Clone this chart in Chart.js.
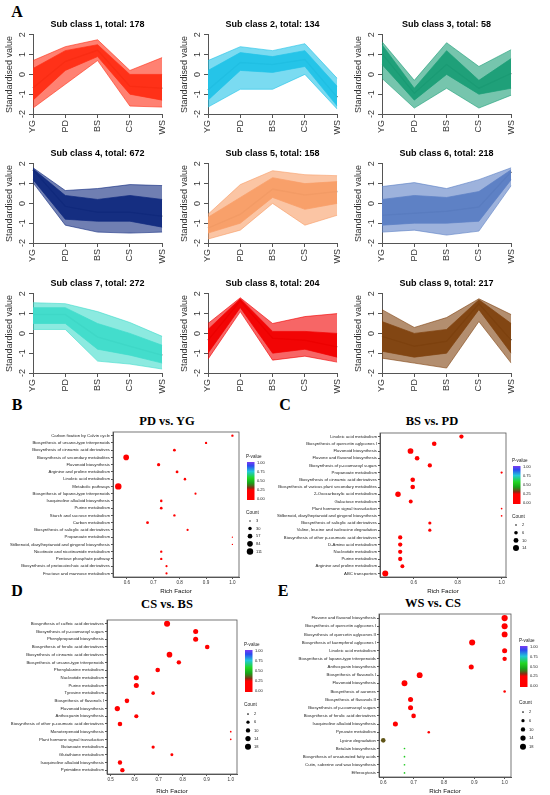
<!DOCTYPE html>
<html><head><meta charset="utf-8">
<script src="https://cdn.jsdelivr.net/npm/chart.js@4.4.0/dist/chart.umd.min.js"></script>
<style>
body{margin:0;background:#fff;width:550px;height:795px;position:relative;overflow:hidden;font-family:"Liberation Sans",Arial,sans-serif;}
canvas{position:absolute;}
.lab{position:absolute;font-family:"Liberation Serif","Times New Roman",serif;font-weight:bold;font-size:16px;transform:translate(-50%,-50%);line-height:1;}
.ttl{position:absolute;font-family:"Liberation Serif","Times New Roman",serif;font-weight:bold;font-size:12.5px;transform:translate(-50%,-50%);white-space:nowrap;line-height:1;}
</style></head><body>
<div class="lab" style="left:17px;top:12px">A</div>
<div class="lab" style="left:17px;top:405px">B</div>
<div class="lab" style="left:285px;top:405px">C</div>
<div class="lab" style="left:17px;top:591px">D</div>
<div class="lab" style="left:283px;top:591px">E</div>
<div class="ttl" style="left:167px;top:421px">PD vs. YG</div>
<div class="ttl" style="left:432px;top:421px">BS vs. PD</div>
<div class="ttl" style="left:167px;top:604px">CS vs. BS</div>
<div class="ttl" style="left:433px;top:603px">WS vs. CS</div>
<script>
// ---------- Panel A data ----------
const stages = ['YG','PD','BS','CS','WS'];
const subTotals = [178,134,58,672,158,218,272,204,217];
const meanValues = [
 [-0.68,0.65,1.22,-0.60,-0.70],
 [-0.78,0.60,0.50,0.75,-1.15],
 [1.05,-0.95,0.50,-0.70,0.05],
 [1.70,-0.15,-0.45,-0.45,-0.65],
 [-1.25,-0.55,0.72,0.42,0.60],
 [-0.60,-0.50,-0.40,-0.18,1.60],
 [0.95,0.95,-0.18,-0.65,-1.10],
 [-0.35,1.65,-0.25,-0.35,-0.68],
 [-0.15,-0.65,-0.40,1.50,-0.35]
];
const maxValues = [
 [0.70,1.40,1.75,0.20,0.85],
 [0.70,1.40,1.20,1.55,-0.20],
 [1.65,-0.30,1.60,0.40,1.25],
 [1.80,0.65,0.75,0.95,0.90],
 [-0.55,0.95,1.65,1.45,1.40],
 [0.85,1.05,0.75,1.20,1.80],
 [1.55,1.50,1.10,0.55,-0.15],
 [0.50,1.80,0.50,0.85,1.00],
 [1.20,0.30,0.80,1.75,0.95]
];
const minValues = [
 [-1.70,-0.50,0.70,-1.60,-1.65],
 [-1.65,-0.75,-0.75,0.00,-1.75],
 [-0.20,-1.70,-0.70,-1.70,-1.05],
 [1.05,-1.10,-1.45,-1.50,-1.45],
 [-1.80,-1.35,0.00,-1.10,-0.60],
 [-1.45,-1.35,-1.60,-1.40,0.90],
 [0.20,0.20,-1.40,-1.55,-1.80],
 [-1.30,1.10,-1.35,-1.15,-1.45],
 [-1.25,-1.50,-1.75,0.60,-1.50]
];
const coreHigh = [
 [0.30,1.20,1.50,0.00,0.00],
 [0.20,1.10,0.90,1.20,-0.60],
 [1.50,-0.70,1.20,-0.30,0.80],
 [1.75,0.40,0.20,0.40,0.20],
 [-0.70,0.30,1.30,1.00,1.10],
 [0.20,0.40,0.30,0.60,1.70],
 [1.30,1.30,0.50,0.00,-0.60],
 [0.20,1.75,0.10,0.10,0.00],
 [0.60,0.00,0.20,1.70,0.50]
];
const coreLow = [
 [-1.30,0.20,0.90,-1.00,-1.30],
 [-1.30,0.20,0.10,0.40,-1.60],
 [0.50,-1.30,0.00,-1.00,-0.70],
 [1.20,-0.80,-0.90,-0.90,-1.20],
 [-1.50,-1.00,0.30,-0.30,0.00],
 [-1.10,-1.00,-1.00,-0.90,1.20],
 [0.50,0.50,-0.80,-1.10,-1.50],
 [-1.00,1.30,-1.00,-0.80,-1.20],
 [-0.90,-1.20,-1.00,1.20,-1.00]
];
const subColors = ['#FF2D14','#22C3E8','#1B9E77','#102A7F','#F99E68','#5B7FC4','#40DCCB','#F20000','#80420F'];

// ---------- Panel B data (PD vs. YG) ----------
const pathwaysB = ['Carbon fixation by Calvin cycle','Biosynthesis of ursane-type triterpenoids','Biosynthesis of cinnamic acid derivatives','Biosynthesis of secondary metabolites','Flavonoid biosynthesis','Arginine and proline metabolism','Linoleic acid metabolism','Metabolic pathways','Biosynthesis of lupane-type triterpenoids','Isoquinoline alkaloid biosynthesis','Purine metabolism','Starch and sucrose metabolism','Carbon metabolism','Biosynthesis of salicylic acid derivatives','Propanoate metabolism','Stilbenoid, diarylheptanoid and gingerol biosynthesis','Nicotinate and nicotinamide metabolism','Pentose phosphate pathway','Biosynthesis of protocatechuic acid derivatives','Fructose and mannose metabolism'];
const richB = [1.0,0.9,0.78,0.597,0.72,0.79,0.82,0.567,0.86,0.73,0.73,0.78,0.678,0.83,1.0,1.0,0.73,0.73,0.75,0.75];
const countB = [12,12,18,84,25,18,14,111,10,14,16,12,18,10,3,3,12,12,10,10];
const pvalB = [0.02,0.03,0.01,0.001,0.01,0.02,0.02,0.001,0.04,0.03,0.03,0.03,0.02,0.05,0.1,0.1,0.04,0.04,0.05,0.05];
const countLegendB = [3,30,57,84,111];

// ---------- Panel C data (BS vs. PD) ----------
const pathwaysC = ['Linoleic acid metabolism','Biosynthesis of quercetin aglycones I','Flavonoid biosynthesis','Flavone and flavonol biosynthesis','Biosynthesis of p-coumaroyl sugars','Propanoate metabolism','Biosynthesis of cinnamic acid derivatives','Biosynthesis of various plant secondary metabolites','2-Oxocarboxylic acid metabolism','Galactose metabolism','Plant hormone signal transduction','Stilbenoid, diarylheptanoid and gingerol biosynthesis','Biosynthesis of salicylic acid derivatives','Valine, leucine and isoleucine degradation','Biosynthesis of other p-coumaric acid derivatives','D-Amino acid metabolism','Nucleotide metabolism','Purine metabolism','Arginine and proline metabolism','ABC transporters'];
const richC = [0.817,0.693,0.585,0.615,0.673,1.0,0.595,0.595,0.528,0.586,1.0,1.0,0.673,0.673,0.538,0.538,0.538,0.538,0.548,0.47];
const countC = [8,9,13,9,8,3,9,9,12,7,2,2,5,5,8,8,8,8,7,14];
const pvalC = [0.01,0.01,0.01,0.01,0.02,0.05,0.02,0.02,0.02,0.03,0.08,0.08,0.06,0.06,0.04,0.04,0.04,0.04,0.05,0.03];
const countLegendC = [2,6,10,14];

// ---------- Panel D data (CS vs. BS) ----------
const pathwaysD = ['Biosynthesis of caffeic acid derivatives','Biosynthesis of p-coumaroyl sugars','Phenylpropanoid biosynthesis','Biosynthesis of ferulic acid derivatives','Biosynthesis of cinnamic acid derivatives','Biosynthesis of ursane-type triterpenoids','Phenylalanine metabolism','Nucleotide metabolism','Purine metabolism','Tyrosine metabolism','Biosynthesis of flavonols I','Flavonoid biosynthesis','Anthocyanin biosynthesis','Biosynthesis of other p-coumaric acid derivatives','Monoterpenoid biosynthesis','Plant hormone signal transduction','Butanoate metabolism','Glutathione metabolism','Isoquinoline alkaloid biosynthesis','Pyrimidine metabolism'];
const richD = [0.735,0.854,0.854,0.902,0.745,0.784,0.696,0.607,0.607,0.677,0.568,0.528,0.607,0.539,1.0,1.0,0.677,0.755,0.539,0.549];
const countD = [18,13,13,11,16,10,11,13,13,7,11,14,9,11,2,2,6,5,10,10];
const pvalD = [0.001,0.005,0.005,0.01,0.005,0.01,0.02,0.03,0.03,0.05,0.04,0.05,0.06,0.06,0.1,0.1,0.1,0.1,0.08,0.08];
const countLegendD = [2,6,10,14,18];

// ---------- Panel E data (WS vs. CS) ----------
const pathwaysE = ['Flavone and flavonol biosynthesis','Biosynthesis of quercetin aglycones I','Biosynthesis of quercetin aglycones II','Biosynthesis of kaempferol aglycones I','Linoleic acid metabolism','Biosynthesis of lupane-type triterpenoids','Anthocyanin biosynthesis','Biosynthesis of flavanols I','Flavonoid biosynthesis','Biosynthesis of aurones','Biosynthesis of flavanols II','Biosynthesis of p-coumaroyl sugars','Biosynthesis of ferulic acid derivatives','Isoquinoline alkaloid biosynthesis','Pyruvate metabolism','Lysine degradation','Betalain biosynthesis','Biosynthesis of unsaturated fatty acids','Cutin, suberine and wax biosynthesis','Efferocytosis'];
const richE = [1.0,1.0,1.0,0.893,1.0,1.0,0.89,0.72,0.67,1.0,0.69,0.69,0.70,0.64,0.75,0.60,0.67,0.67,0.67,0.67];
const countE = [19,18,17,18,13,10,13,17,17,4,13,13,11,13,4,11,2,2,2,2];
const pvalE = [0.001,0.001,0.001,0.001,0.002,0.005,0.005,0.005,0.01,0.05,0.02,0.02,0.03,0.05,0.15,0.36,0.55,0.55,0.55,0.55];
const countLegendE = [2,6,10,14,18];

// ---------- helpers ----------
Chart.defaults.font.family = '"Liberation Sans", Arial, sans-serif';
Chart.defaults.color = '#333';
function hexA(hex, a){
  const n = parseInt(hex.slice(1),16);
  return `rgba(${(n>>16)&255},${(n>>8)&255},${n&255},${a})`;
}
const pStops = [[0,'#ff0000'],[0.26,'#ff0000'],[0.32,'#8b2a10'],[0.38,'#4a6a1a'],[0.45,'#19a319'],[0.58,'#22d622'],[0.75,'#22c8d8'],[0.9,'#2b4af0'],[1,'#7a3cf0']];
function pColor(p){
  for(let i=1;i<pStops.length;i++){
    if(p<=pStops[i][0]){
      const [p0,c0]=pStops[i-1],[p1,c1]=pStops[i];
      const t=(p-p0)/(p1-p0||1);
      const a=parseInt(c0.slice(1),16), b=parseInt(c1.slice(1),16);
      const ch=s=>Math.round(((a>>s)&255)*(1-t)+((b>>s)&255)*t);
      return `rgb(${ch(16)},${ch(8)},${ch(0)})`;
    }
  }
  return pStops[pStops.length-1][1];
}
function addCanvas(left, top, w, h){
  const cv=document.createElement('canvas');
  cv.width=w; cv.height=h;
  cv.style.left=left+'px'; cv.style.top=top+'px';
  cv.style.width=w+'px'; cv.style.height=h+'px';
  document.body.appendChild(cv);
  return cv;
}

// ---------- Panel A ----------
for(let i=0;i<9;i++){
  const col=i%3, row=Math.floor(i/3);
  const cv=addCanvas(col*174.5, 14+row*129.3, 175, 130);
  const c=subColors[i];
  new Chart(cv,{
    type:'line',
    data:{labels:stages,datasets:[
      {data:maxValues[i],borderColor:c,borderWidth:0.6,backgroundColor:hexA(c,0.6),fill:'+1',pointRadius:0,tension:0},
      {data:minValues[i],borderColor:c,borderWidth:0.6,pointRadius:0,fill:false,tension:0},
      {data:coreHigh[i],borderColor:c,borderWidth:0.7,backgroundColor:hexA(c,0.95),fill:'+1',pointRadius:0,tension:0},
      {data:coreLow[i],borderColor:c,borderWidth:0.7,pointRadius:0,fill:false,tension:0},
      {data:meanValues[i],borderColor:'#000',borderWidth:1.5,pointRadius:0,fill:false,tension:0}
    ]},
    options:{
      responsive:false,animation:false,events:[],
      layout:{padding:{left:0,right:9,top:0,bottom:0}},
      plugins:{legend:{display:false},tooltip:{enabled:false},
        title:{display:true,fullSize:false,text:`Sub class ${i+1}, total: ${subTotals[i]}`,color:'#000',
          font:{size:9,weight:'bold'},padding:{top:5,bottom:5}}},
      scales:{
        x:{offset:false,
          grid:{drawOnChartArea:false,tickLength:4,color:'#555'},border:{color:'#555'},
          ticks:{minRotation:90,maxRotation:90,autoSkip:false,font:{size:9},color:'#333',padding:2},
          afterFit(s){s.height=30;}},
        y:{min:-2,max:2,
          grid:{drawOnChartArea:false,tickLength:4,color:'#555'},border:{color:'#555'},
          ticks:{stepSize:1,minRotation:90,maxRotation:90,crossAlign:'center',font:{size:9},color:'#333',padding:2},
          title:{display:true,text:'Standardised value',font:{size:9},color:'#333',padding:{top:4,bottom:0}},
          afterFit(s){s.width=33;}}
      }
    }
  });
}

// ---------- Bubble panels ----------
const boxPlugin={id:'box',afterDraw(chart){
  const {ctx,chartArea:a}=chart;
  ctx.save();ctx.strokeStyle='#555';ctx.lineWidth=0.8;
  ctx.strokeRect(a.left,a.top,a.right-a.left,a.bottom-a.top);ctx.restore();
}};
function makeBubble(cfg){
  const cv=addCanvas(cfg.left,cfg.top,cfg.w,cfg.h);
  const rad=c=>Math.max(0.5,cfg.ra+cfg.rb*Math.sqrt(c));
  const legendPlugin={id:'lg',afterDraw(chart){
    const ctx=chart.ctx, L=cfg.legend;
    ctx.save();
    ctx.fillStyle='#222';ctx.textBaseline='middle';ctx.textAlign='left';
    ctx.font='4.6px "Liberation Sans", Arial, sans-serif';
    ctx.fillText('P-value',L.x-1,L.y);
    const by=L.y+5, bh=L.barH, bw=7.5;
    const g=ctx.createLinearGradient(0,by+bh,0,by);
    pStops.forEach(s=>g.addColorStop(s[0],s[1]));
    ctx.fillStyle=g;ctx.fillRect(L.x,by,bw,bh);
    ctx.fillStyle='#222';ctx.font='4px "Liberation Sans", Arial, sans-serif';
    ['1.00','0.75','0.50','0.25','0.00'].forEach((t,k)=>{
      ctx.fillText(t,L.x+bw+2.5,by+1+k*(bh-2)/4);
    });
    ctx.font='4.8px "Liberation Sans", Arial, sans-serif';
    const cy=by+bh+L.countGap;
    ctx.fillText('Count',L.x-1,cy);
    ctx.font='4px "Liberation Sans", Arial, sans-serif';
    cfg.legendCounts.forEach((c,k)=>{
      const y=cy+L.dot0+k*L.step;
      ctx.fillStyle='#000';ctx.beginPath();ctx.arc(L.x+3,y,rad(c),0,Math.PI*2);ctx.fill();
      ctx.fillStyle='#222';ctx.fillText(String(c),L.x+9,y);
    });
    ctx.restore();
  }};
  new Chart(cv,{
    type:'bubble',
    data:{datasets:[{
      data:cfg.paths.map((p,j)=>({x:cfg.rich[j],y:p,r:rad(cfg.count[j])})),
      backgroundColor:cfg.pval.map(pColor),borderWidth:0,hoverRadius:0
    }]},
    options:{
      responsive:false,animation:false,events:[],
      layout:{padding:{left:0,right:cfg.w-cfg.area.right,top:cfg.area.top,bottom:0}},
      plugins:{legend:{display:false},tooltip:{enabled:false}},
      scales:{
        x:{type:'linear',min:cfg.xmin,max:cfg.xmax,
          grid:{drawOnChartArea:false,tickLength:2,color:'#555'},border:{color:'#555'},
          ticks:{stepSize:cfg.step,includeBounds:false,font:{size:4.6},color:'#333',padding:1,
            callback:v=>Number(v).toFixed(1)},
          title:{display:true,text:'Rich Factor',font:{size:6.2},color:'#111',padding:{top:0,bottom:0}},
          afterFit(s){s.height=cfg.h-cfg.area.bottom;}},
        y:{type:'category',labels:cfg.paths,offset:true,
          grid:{drawOnChartArea:false,tickLength:2,color:'#555'},border:{color:'#555'},
          ticks:{autoSkip:false,font:{size:4.3},color:'#222',padding:1},
          afterFit(s){s.width=cfg.area.left;}}
      }
    },
    plugins:[boxPlugin,legendPlugin]
  });
}
makeBubble({left:0,top:410,w:275,h:185,area:{left:113,right:239,top:22,bottom:167},
  paths:pathwaysB,rich:richB,count:countB,pval:pvalB,legendCounts:countLegendB,
  xmin:0.547,xmax:1.025,step:0.1,ra:0.17,rb:0.29,
  legend:{x:247,y:47,barH:38,countGap:13,dot0:8,step:7.6}});
makeBubble({left:275,top:410,w:275,h:185,area:{left:105,right:231,top:23,bottom:167},
  paths:pathwaysC,rich:richC,count:countC,pval:pvalC,legendCounts:countLegendC,
  xmin:0.446,xmax:1.02,step:0.2,ra:-0.48,rb:0.93,
  legend:{x:238,y:51,barH:38,countGap:13,dot0:8,step:7.7}});
makeBubble({left:0,top:595,w:275,h:200,area:{left:107,right:237,top:25,bottom:179},
  paths:pathwaysD,rich:richD,count:countD,pval:pvalD,legendCounts:countLegendD,
  xmin:0.485,xmax:1.026,step:0.1,ra:-0.25,rb:0.77,
  legend:{x:245,y:50,barH:42,countGap:13,dot0:9,step:8.2}});
makeBubble({left:275,top:595,w:275,h:200,area:{left:104,right:236,top:19,bottom:182},
  paths:pathwaysE,rich:richE,count:countE,pval:pvalE,legendCounts:countLegendE,
  xmin:0.586,xmax:1.021,step:0.1,ra:-0.25,rb:0.77,
  legend:{x:245,y:46,barH:41,countGap:16,dot0:9,step:8.7}});
</script>
</body></html>
